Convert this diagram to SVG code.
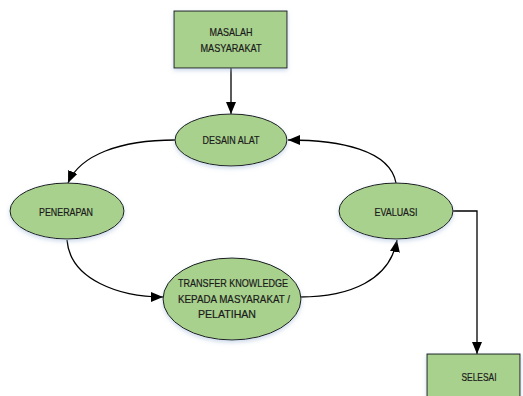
<svg xmlns="http://www.w3.org/2000/svg" width="523" height="396" viewBox="0 0 523 396">
<style>
.shape{fill:#a9d18e;stroke:#1a1a1a;stroke-width:1;filter:url(#glow)}
.lbl{font-family:"Liberation Sans",Arial,sans-serif;font-size:10.5px;fill:#1a1a1a;stroke:#1a1a1a;stroke-width:0.2;text-anchor:middle;dominant-baseline:central}
.edge{fill:none;stroke:#000;stroke-width:1.3;marker-end:url(#arr)}
</style>
<defs>
<marker id="arr" markerUnits="userSpaceOnUse" markerWidth="13" markerHeight="10" refX="12" refY="5" orient="auto">
<path d="M0,0 L12,5 L0,10 Z" fill="#000"/>
</marker>
<filter id="glow" x="-20%" y="-20%" width="140%" height="150%">
<feDropShadow dx="0" dy="2" stdDeviation="2" flood-color="#9ab4d6" flood-opacity="0.5"/>
</filter>
</defs>
<g id="connectors">
<path class="edge" d="M231,68 L231,114"/>
<path class="edge" d="M175,140 C120,140 80,155 68,183"/>
<path class="edge" d="M67,240 C70,280 120,297 163,297"/>
<path class="edge" d="M300,297 C350,297 390,280 397,240"/>
<path class="edge" d="M396,183 C390,150 340,140 288,140"/>
<path class="edge" d="M453,211 L477,211 L477,354"/>
</g>
<g id="masalah">
<rect class="shape" x="174" y="11" width="113" height="57"/>
<text class="lbl" x="231" y="32" textLength="43" lengthAdjust="spacingAndGlyphs">MASALAH</text>
<text class="lbl" x="231" y="48" textLength="61" lengthAdjust="spacingAndGlyphs">MASYARAKAT</text>
</g>
<g id="desain">
<ellipse class="shape" cx="231" cy="140" rx="56" ry="26"/>
<text class="lbl" x="231" y="140" textLength="57" lengthAdjust="spacingAndGlyphs">DESAIN ALAT</text>
</g>
<g id="penerapan">
<ellipse class="shape" cx="67" cy="211" rx="57" ry="28"/>
<text class="lbl" x="66" y="212" textLength="54" lengthAdjust="spacingAndGlyphs">PENERAPAN</text>
</g>
<g id="transfer">
<ellipse class="shape" cx="232" cy="299" rx="69" ry="41"/>
<text class="lbl" x="233" y="283" textLength="110" lengthAdjust="spacingAndGlyphs">TRANSFER KNOWLEDGE</text>
<text class="lbl" x="234" y="299" textLength="112" lengthAdjust="spacingAndGlyphs">KEPADA MASYARAKAT /</text>
<text class="lbl" x="227" y="314" textLength="58" lengthAdjust="spacingAndGlyphs">PELATIHAN</text>
</g>
<g id="evaluasi">
<ellipse class="shape" cx="396" cy="211" rx="57" ry="28"/>
<text class="lbl" x="396" y="212" textLength="43" lengthAdjust="spacingAndGlyphs">EVALUASI</text>
</g>
<g id="selesai">
<rect class="shape" x="427" y="354" width="93" height="50"/>
<text class="lbl" x="479" y="377" textLength="35" lengthAdjust="spacingAndGlyphs">SELESAI</text>
</g>
</svg>
